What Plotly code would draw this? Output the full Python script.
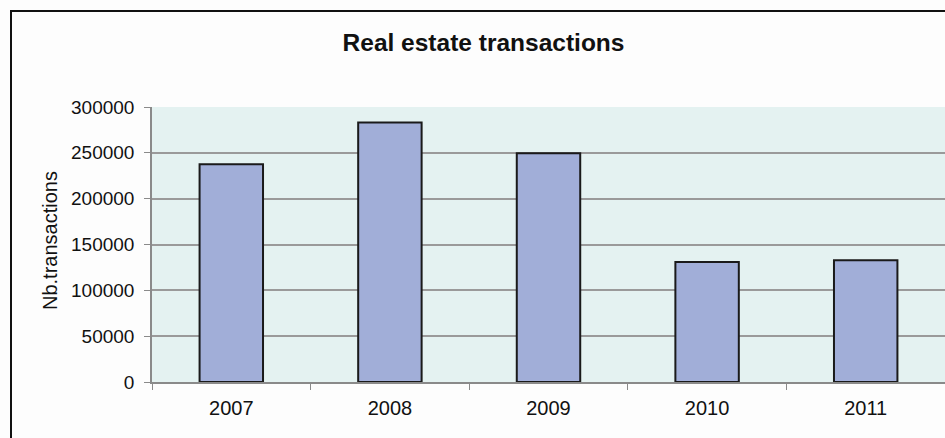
import plotly.graph_objects as go

years = ["2007", "2008", "2009", "2010", "2011"]
transactions = [237500, 283000, 249500, 131000, 132800]
y_ticks = [0, 50000, 100000, 150000, 200000, 250000, 300000]

title_text = "Real estate transactions"
y_title = "Nb.transactions"

W, H = 945, 438
L, R, T, B = 152, 0, 107, 56
pw, ph = W - L - R, H - T - B

def px_x(x):
    return (x - L) / pw

def px_y(y):
    return (H - B - y) / ph

fig = go.Figure()
fig.add_trace(go.Bar(
    x=years, y=transactions,
    marker=dict(color="#A1AED8", line=dict(color="#1a1a1a", width=2)),
    width=0.4,
))

font_family = "Liberation Sans, Arial, sans-serif"

fig.update_layout(
    width=W, height=H,
    margin=dict(l=L, r=R, t=T, b=B, pad=0),
    paper_bgcolor="#FDFDFD",
    plot_bgcolor="#E4F2F1",
    showlegend=False,
    font=dict(family=font_family, color="#111111", size=19),
    title=dict(
        text="<b>" + title_text + "</b>",
        x=483.5 / W, xref="container", xanchor="center",
        y=1 - 42 / H, yref="container", yanchor="middle",
        font=dict(size=24.5, family=font_family, color="#111111"),
    ),
    xaxis=dict(
        type="category",
        tickson="boundaries",
        ticks="outside", ticklen=6, tickcolor="#8a8a8a", tickwidth=1,
        showline=True, linecolor="#8a8a8a", linewidth=1.5,
        showgrid=False,
        tickfont=dict(size=20),
        ticklabelstandoff=7,
        range=[-0.5, 4.5],
    ),
    yaxis=dict(
        range=[0, 300000],
        tickvals=y_ticks,
        ticktext=[str(v) for v in y_ticks],
        ticks="outside", ticklen=6, tickcolor="#8a8a8a", tickwidth=1,
        showline=True, linecolor="#8a8a8a", linewidth=1.5,
        showgrid=True, gridcolor="#9a9a9a", gridwidth=1.5,
        zeroline=False,
        tickfont=dict(size=19),
        ticklabelstandoff=6,
    ),
    annotations=[dict(
        text=y_title, textangle=-90,
        xref="paper", yref="paper",
        x=px_x(50), y=px_y(241),
        xanchor="center", yanchor="middle",
        showarrow=False, font=dict(size=20),
    )],
    shapes=[dict(
        type="rect", xref="paper", yref="paper",
        x0=px_x(11), x1=px_x(W + 20), y0=px_y(H + 20), y1=px_y(11),
        line=dict(color="#111111", width=2), fillcolor="rgba(0,0,0,0)",
        layer="above",
    )],
)

fig.write_html("out.html")
